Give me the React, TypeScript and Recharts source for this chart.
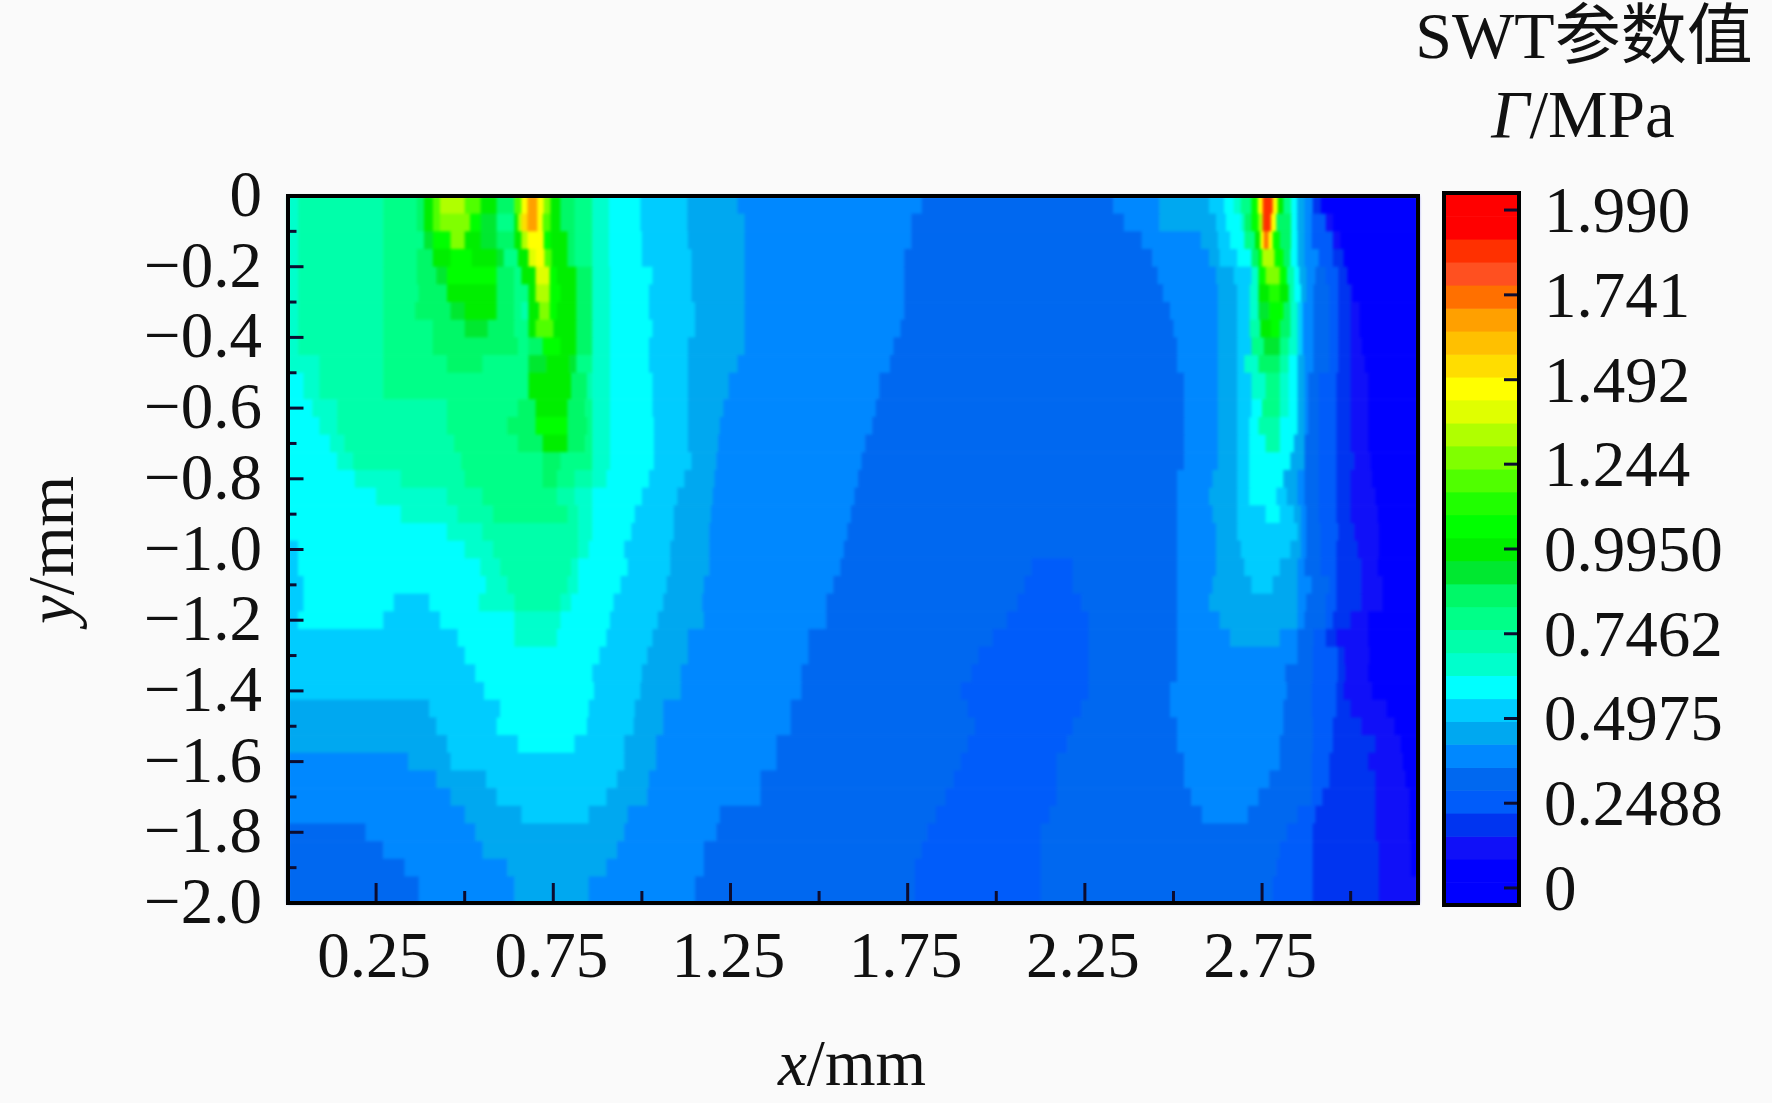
import { ScatterChart, Scatter, XAxis, YAxis } from "recharts";

// contour levels of the colour scale, MPa, bottom to top
const LEVELS = [
  -0.05, 0.017, 0.085, 0.152, 0.22, 0.287, 0.354, 0.422, 0.489, 0.556, 0.624,
  0.691, 0.759, 0.826, 0.893, 0.961, 1.028, 1.096, 1.163, 1.23, 1.298, 1.365,
  1.433, 1.5, 1.567, 1.635, 1.702, 1.77, 1.837, 1.905, 1.972, 2.04,
];
const BAND_COLORS = [
  "#0000ff", "#0000ff", "#1010f8", "#0034f0", "#005cfa", "#0068f0", "#0088ff",
  "#00a8f0", "#00ccff", "#00ffff", "#00ffcc", "#00ffaa", "#00ff88", "#00f868",
  "#00e830", "#00ee00", "#00ff00", "#20ff00", "#50ff00", "#80ff00", "#b0ff00",
  "#e0ff00", "#ffff00", "#ffdd00", "#ffc000", "#ffa000", "#ff7000", "#ff5020",
  "#ff3000", "#ff0000", "#ff0000",
];
const BAR_TICKS = [0, 0.2488, 0.4975, 0.7462, 0.995, 1.244, 1.492, 1.741, 1.99];
const BAR_LABELS = ["0", "0.2488", "0.4975", "0.7462", "0.9950", "1.244", "1.492", "1.741", "1.990"];

const X_TICKS = [0.25, 0.5, 0.75, 1, 1.25, 1.5, 1.75, 2, 2.25, 2.5, 2.75, 3];
const X_LABELLED = [0.25, 0.75, 1.25, 1.75, 2.25, 2.75];
const Y_TICKS = [0, -0.1, -0.2, -0.3, -0.4, -0.5, -0.6, -0.7, -0.8, -0.9, -1, -1.1, -1.2, -1.3, -1.4, -1.5, -1.6, -1.7, -1.8, -1.9, -2];
const X_MAX = 3.19;

// depth (mm) where each row of the field ends
const ROW_ENDS = [
  0.05, 0.1, 0.15, 0.2, 0.25, 0.3, 0.35, 0.4, 0.45, 0.5, 0.575, 0.625, 0.675,
  0.725, 0.775, 0.825, 0.875, 0.925, 0.975, 1.025, 1.075, 1.125, 1.175, 1.225,
  1.275, 1.325, 1.375, 1.425, 1.475, 1.525, 1.575, 1.625, 1.675, 1.725, 1.775,
  1.825, 1.875, 1.925, 2,
];

// each row: [x where the stretch ends in mm, SWT value in 0.01 MPa]
const ROWS: number[][][] = [
  [[.03,66],[.27,73],[.365,79],[.385,86],[.41,99],[.43,120],[.5,133],[.545,120],[.59,99],[.64,86],[.66,120],[.677,147],[.705,167],[.723,147],[.742,126],[.77,99],[.81,86],[.86,79],[.907,66],[.996,59],[1.128,52],[1.27,46],[1.79,39],[2.33,32],[2.46,39],[2.6,46],[2.643,52],[2.67,59],[2.69,66],[2.72,79],[2.738,106],[2.752,147],[2.78,187],[2.794,147],[2.81,99],[2.832,79],[2.849,59],[2.87,46],[2.893,39],[2.916,19],[3.19,5]],
  [[.03,66],[.27,73],[.365,79],[.385,86],[.41,99],[.43,120],[.515,126],[.545,106],[.59,93],[.64,79],[.65,99],[.66,133],[.677,153],[.705,167],[.72,147],[.742,120],[.77,99],[.81,86],[.86,79],[.907,66],[.996,59],[1.128,52],[1.29,46],[1.76,39],[2.36,32],[2.46,39],[2.62,46],[2.648,52],[2.69,59],[2.7,66],[2.72,86],[2.74,106],[2.752,133],[2.775,187],[2.79,147],[2.832,86],[2.849,59],[2.87,46],[2.89,39],[2.93,25],[2.95,12],[3.19,5]],
  [[.03,66],[.27,73],[.385,79],[.41,93],[.46,106],[.5,126],[.545,99],[.59,93],[.64,86],[.66,99],[.677,133],[.723,147],[.742,106],[.79,99],[.81,86],[.86,79],[.907,66],[1,59],[1.13,52],[1.29,46],[1.76,39],[2.41,32],[2.577,39],[2.625,46],[2.66,52],[2.7,59],[2.73,79],[2.745,99],[2.755,147],[2.768,174],[2.78,147],[2.8,106],[2.832,86],[2.85,59],[2.87,46],[2.89,39],[2.95,25],[2.97,12],[3.19,5]],
  [[.03,66],[.27,73],[.365,79],[.41,86],[.46,99],[.52,106],[.59,99],[.61,93],[.65,79],[.68,99],[.7,140],[.725,147],[.745,120],[.79,99],[.81,86],[.86,79],[.907,66],[1,59],[1.14,52],[1.29,46],[1.74,39],[2.44,32],[2.6,39],[2.63,46],[2.68,52],[2.72,59],[2.74,86],[2.75,106],[2.785,133],[2.81,106],[2.83,86],[2.85,59],[2.87,46],[2.91,39],[2.95,25],[2.98,19],[3.19,5]],
  [[.03,66],[.27,73],[.365,79],[.42,86],[.45,93],[.59,106],[.64,86],[.66,79],[.7,99],[.74,140],[.76,106],[.815,99],[.86,86],[.91,66],[1.03,59],[1.14,52],[1.29,46],[1.74,39],[2.455,32],[2.62,39],[2.67,46],[2.72,52],[2.74,66],[2.76,106],[2.8,126],[2.82,106],[2.84,73],[2.855,59],[2.875,46],[2.9,39],[2.93,32],[2.965,25],[2.99,19],[3.19,5]],
  [[.03,66],[.27,73],[.37,79],[.45,86],[.59,99],[.64,86],[.68,79],[.7,99],[.74,133],[.77,106],[.815,99],[.86,86],[.91,66],[1.02,59],[1.14,52],[1.29,46],[1.74,39],[2.47,32],[2.625,39],[2.68,46],[2.715,52],[2.74,66],[2.77,99],[2.8,113],[2.825,99],[2.84,73],[2.86,59],[2.875,46],[2.895,39],[2.94,32],[2.965,25],[3,19],[3.005,12],[3.19,5]],
  [[.03,66],[.27,73],[.36,79],[.46,86],[.5,93],[.59,99],[.64,86],[.66,79],[.68,73],[.71,99],[.74,126],[.76,106],[.815,99],[.86,86],[.91,66],[1.02,59],[1.15,52],[1.29,46],[1.74,39],[2.49,32],[2.625,39],[2.68,46],[2.715,52],[2.74,66],[2.77,93],[2.81,106],[2.83,86],[2.85,66],[2.865,52],[2.895,39],[2.94,32],[2.965,25],[3,19],[3.025,12],[3.19,5]],
  [[.03,66],[.27,73],[.41,79],[.5,86],[.565,93],[.64,86],[.68,79],[.7,99],[.75,120],[.815,99],[.86,86],[.91,66],[1.03,59],[1.15,52],[1.29,46],[1.73,39],[2.5,32],[2.625,39],[2.68,46],[2.715,52],[2.745,73],[2.775,99],[2.8,106],[2.83,86],[2.85,66],[2.865,52],[2.895,39],[2.94,32],[2.965,25],[3,19],[3.025,12],[3.19,5]],
  [[.03,66],[.27,73],[.41,79],[.65,86],[.68,79],[.72,86],[.77,106],[.815,99],[.86,86],[.91,66],[1.02,59],[1.13,52],[1.29,46],[1.71,39],[2.51,32],[2.625,39],[2.68,46],[2.72,52],[2.755,79],[2.8,93],[2.825,79],[2.85,66],[2.865,52],[2.895,39],[2.94,32],[2.965,25],[3,19],[3.03,12],[3.19,5]],
  [[.09,66],[.27,73],[.45,79],[.55,86],[.68,79],[.73,93],[.795,99],[.815,93],[.86,79],[.91,66],[1.02,59],[1.13,52],[1.27,46],[1.7,39],[2.51,32],[2.625,39],[2.68,46],[2.7,52],[2.74,66],[2.8,86],[2.825,73],[2.85,59],[2.87,46],[2.895,39],[2.94,32],[2.965,25],[3,19],[3.04,12],[3.19,5]],
  [[.045,59],[.09,66],[.27,73],[.68,79],[.8,99],[.845,86],[.86,73],[.91,66],[1.03,59],[1.13,52],[1.245,46],[1.67,39],[2.53,32],[2.625,39],[2.68,46],[2.72,52],[2.76,66],[2.8,79],[2.825,66],[2.85,59],[2.87,46],[2.88,39],[2.91,32],[2.96,25],[3,19],[3.05,12],[3.19,5]],
  [[.07,59],[.14,66],[.45,73],[.65,79],[.7,86],[.79,99],[.84,86],[.86,79],[.91,66],[1.03,59],[1.13,52],[1.23,46],[1.66,39],[2.53,32],[2.625,39],[2.68,46],[2.72,52],[2.75,59],[2.8,79],[2.825,66],[2.85,59],[2.87,46],[2.88,39],[2.91,32],[2.96,25],[3,19],[3.05,12],[3.19,5]],
  [[.09,59],[.14,66],[.45,73],[.62,79],[.7,86],[.79,106],[.845,86],[.86,79],[.91,66],[1.034,59],[1.13,52],[1.22,46],[1.65,39],[2.53,32],[2.625,39],[2.68,46],[2.714,52],[2.74,59],[2.8,73],[2.85,59],[2.87,46],[2.88,39],[2.91,32],[2.96,25],[3,19],[3.05,12],[3.19,5]],
  [[.12,59],[.16,66],[.47,73],[.65,79],[.72,86],[.79,99],[.84,86],[.86,79],[.91,66],[1.034,59],[1.13,52],[1.215,46],[1.63,39],[2.53,32],[2.625,39],[2.68,46],[2.714,52],[2.76,59],[2.8,73],[2.84,59],[2.87,46],[2.91,32],[2.96,25],[3,19],[3.05,12],[3.19,5]],
  [[.14,59],[.185,66],[.49,73],[.72,79],[.77,86],[.86,79],[.91,66],[1.034,59],[1.14,52],[1.21,46],[1.62,39],[2.53,32],[2.625,39],[2.68,46],[2.714,52],[2.83,59],[2.87,46],[2.91,32],[2.96,25],[3.01,19],[3.055,12],[3.19,5]],
  [[.19,59],[.32,66],[.5,73],[.72,79],[.76,86],[.81,79],[.86,73],[.9,66],[1.02,59],[1.12,52],[1.205,46],[1.61,39],[2.51,32],[2.61,39],[2.68,46],[2.714,52],[2.81,59],[2.85,46],[2.87,39],[2.91,32],[2.96,25],[3,19],[3.06,12],[3.19,5]],
  [[.25,59],[.45,66],[.55,73],[.76,79],[.81,73],[.86,66],[1,59],[1.1,52],[1.2,46],[1.6,39],[2.51,32],[2.6,39],[2.68,46],[2.714,52],[2.79,59],[2.82,52],[2.85,46],[2.87,39],[2.91,32],[2.96,25],[3,19],[3.07,12],[3.19,5]],
  [[.32,59],[.48,66],[.58,73],[.79,79],[.82,73],[.86,66],[.98,59],[1.09,52],[1.195,46],[1.59,39],[2.51,32],[2.61,39],[2.68,46],[2.76,52],[2.8,59],[2.84,52],[2.86,46],[2.875,39],[2.91,32],[2.96,25],[3,19],[3.075,12],[3.19,5]],
  [[.45,59],[.55,66],[.82,73],[.86,66],[.97,59],[1.09,52],[1.19,46],[1.58,39],[2.51,32],[2.62,39],[2.68,46],[2.85,52],[2.86,46],[2.875,39],[2.915,32],[2.965,25],[3.01,19],[3.08,12],[3.19,5]],
  [[.03,52],[.5,59],[.58,66],[.82,73],[.85,66],[.95,59],[1.08,52],[1.19,46],[1.57,39],[2.51,32],[2.62,39],[2.69,46],[2.83,52],[2.86,46],[2.875,39],[2.915,32],[2.96,25],[3.02,19],[3.08,12],[3.19,5]],
  [[.03,52],[.544,59],[.6,66],[.8,73],[.82,66],[.96,59],[1.08,52],[1.19,46],[1.56,39],[2.1,32],[2.215,25],[2.51,32],[2.62,39],[2.7,46],[2.8,52],[2.85,46],[2.87,39],[2.915,32],[2.96,25],[3.03,19],[3.075,12],[3.19,5]],
  [[.045,52],[.56,59],[.62,66],[.79,73],[.82,66],[.94,59],[1.07,52],[1.175,46],[1.54,39],[2.08,32],[2.215,25],[2.51,32],[2.61,39],[2.72,46],[2.78,52],[2.85,46],[2.89,39],[2.94,32],[2.96,25],[3.03,19],[3.09,12],[3.19,5]],
  [[.045,52],[.3,59],[.4,52],[.54,59],[.64,66],[.77,73],[.8,66],[.92,59],[1.06,52],[1.17,46],[1.52,39],[2.06,32],[2.24,25],[2.51,32],[2.6,39],[2.85,46],[2.875,39],[2.93,32],[2.96,25],[3.03,19],[3.09,12],[3.19,5]],
  [[.03,52],[.27,59],[.43,52],[.64,59],[.77,66],[.91,59],[1.045,52],[1.175,46],[1.52,39],[2.03,32],[2.26,25],[2.51,32],[2.63,39],[2.85,46],[2.87,39],[2.93,32],[2.95,25],[3,19],[3.05,12],[3.19,5]],
  [[.48,52],[.64,59],[.76,66],[.9,59],[1.03,52],[1.13,46],[1.47,39],[1.99,32],[2.26,25],[2.51,32],[2.66,39],[2.8,46],[2.85,39],[2.895,32],[2.93,25],[2.96,19],[3.05,12],[3.19,5]],
  [[.5,52],[.88,59],[1.015,52],[1.13,46],[1.47,39],[1.95,32],[2.26,25],[2.51,32],[2.85,39],[2.893,32],[2.964,25],[2.982,19],[3.053,12],[3.19,5]],
  [[.53,52],[.86,59],[1,52],[1.11,46],[1.45,39],[1.93,32],[2.26,25],[2.51,32],[2.815,39],[2.893,32],[2.964,25],[2.985,19],[3.05,12],[3.19,5]],
  [[.555,52],[.865,59],[.996,52],[1.11,46],[1.45,39],[1.9,32],[2.26,25],[2.49,32],[2.82,39],[2.89,32],[2.96,25],[2.98,19],[3.06,12],[3.19,5]],
  [[.4,46],[.6,52],[.85,59],[.98,52],[1.06,46],[1.42,39],[1.92,32],[2.24,25],[2.49,32],[2.81,39],[2.89,32],[2.96,25],[3,19],[3.1,12],[3.19,5]],
  [[.42,46],[.59,52],[.845,59],[.977,52],[1.06,46],[1.42,39],[1.94,32],[2.215,25],[2.51,32],[2.81,39],[2.893,32],[2.95,25],[3.03,19],[3.124,12],[3.19,5]],
  [[.45,46],[.65,52],[.81,59],[.95,52],[1.04,46],[1.38,39],[1.92,32],[2.2,25],[2.51,32],[2.8,39],[2.893,32],[2.95,25],[3.07,19],[3.14,12],[3.19,5]],
  [[.34,39],[.46,46],[.95,52],[1.04,46],[1.38,39],[1.9,32],[2.17,25],[2.53,32],[2.8,39],[2.89,32],[2.94,25],[3.05,19],[3.147,12],[3.19,5]],
  [[.42,39],[.56,46],[.93,52],[1.02,46],[1.335,39],[1.88,32],[2.17,25],[2.53,32],[2.77,39],[2.89,32],[2.94,25],[3.07,19],[3.155,12],[3.19,5]],
  [[.46,39],[.59,46],[.9,52],[1.015,46],[1.335,39],[1.857,32],[2.17,25],[2.55,32],[2.74,39],[2.89,32],[2.92,25],[3.07,19],[3.166,12],[3.19,5]],
  [[.5,39],[.66,46],[.85,52],[.96,46],[1.22,39],[1.83,32],[2.15,25],[2.58,32],[2.71,39],[2.85,32],[2.9,25],[3.07,19],[3.165,12],[3.19,5]],
  [[.22,32],[.53,39],[.95,46],[1.21,39],[1.805,32],[2.125,25],[2.82,32],[2.893,25],[3.07,19],[3.166,12],[3.19,5]],
  [[.27,32],[.55,39],[.93,46],[1.175,39],[1.79,32],[2.125,25],[2.8,32],[2.893,25],[3.08,19],[3.17,12],[3.19,5]],
  [[.33,32],[.62,39],[.9,46],[1.175,39],[1.77,32],[2.125,25],[2.79,32],[2.893,25],[3.08,19],[3.17,12],[3.19,5]],
  [[.37,32],[.64,39],[.85,46],[1.15,39],[1.77,32],[2.125,25],[2.78,32],[2.893,25],[3.08,19],[3.19,12]],
];

const PLOT = { left: 287.5, top: 196, right: 1418, bottom: 903 };
const BAR = { left: 1444, top: 193, right: 1519, bottom: 905 };
const SERIF = "'Liberation Serif', 'Times New Roman', serif";
const FONT_SIZE = 65;

function bandColor(v: number) {
  const i = LEVELS.findIndex((l, n) => v >= l && v < LEVELS[n + 1]);
  return BAND_COLORS[Math.max(i, 0)];
}

// rows -> one rectangle per stretch, placed through the chart's scales
const cells: any[] = [];
ROWS.forEach((row, r) => {
  const top = r === 0 ? 0 : ROW_ENDS[r - 1];
  let start = 0;
  row.forEach(([end, v]) => {
    cells.push({
      x: (start + end) / 2,
      y: -(top + ROW_ENDS[r]) / 2,
      dx: end - start,
      dy: ROW_ENDS[r] - top,
      v: v / 100,
    });
    start = end;
  });
});

const barCells = BAND_COLORS.map((_, i) => ({
  x: 0.5,
  y: (LEVELS[i] + LEVELS[i + 1]) / 2,
  dx: 1,
  dy: LEVELS[i + 1] - LEVELS[i],
  v: (LEVELS[i] + LEVELS[i + 1]) / 2,
}));

const makeCell = (pxX: number, pxY: number) => (props: any) => {
  const { cx, cy, payload } = props;
  const w = payload.dx * pxX;
  const h = payload.dy * pxY;
  return (
    <rect
      x={cx - w / 2}
      y={cy - h / 2}
      width={w + 0.6}
      height={h + 0.6}
      fill={bandColor(payload.v)}
      stroke="none"
    />
  );
};

const Txt = ({ children, ...rest }: any) => (
  <text fontFamily={SERIF} fontSize={FONT_SIZE} fill="#111" {...rest}>
    {children}
  </text>
);

function XTick({ x, payload }: any) {
  const on = X_LABELLED.includes(payload.value);
  return (
    <g>
      <line x1={x} x2={x} y1={PLOT.bottom} y2={PLOT.bottom - (on ? 20 : 12)} stroke="#0c0c30" strokeWidth={3} />
      {on && (
        <Txt x={x - 2} y={977} textAnchor="middle">
          {payload.value.toFixed(2)}
        </Txt>
      )}
    </g>
  );
}

function YTick({ y, payload }: any) {
  const major = Math.round(Math.abs(payload.value) * 10) % 2 === 0;
  const label = payload.value === 0 ? "0" : "\u2212" + Math.abs(payload.value).toFixed(1);
  return (
    <g>
      <line x1={PLOT.left} x2={PLOT.left + (major ? 16 : 9)} y1={y} y2={y} stroke="#0c0c30" strokeWidth={3} />
      {major && (
        <Txt x={262} y={y + 20} textAnchor="end">
          {label}
        </Txt>
      )}
    </g>
  );
}

function BarTick({ y, payload }: any) {
  const i = BAR_TICKS.indexOf(payload.value);
  return (
    <g>
      <line x1={BAR.right} x2={BAR.right - 15} y1={y} y2={y} stroke="#0c0c30" strokeWidth={3} />
      <Txt x={1544} y={y + 22}>
        {BAR_LABELS[i]}
      </Txt>
    </g>
  );
}

const frame = (b: { left: number; top: number; right: number; bottom: number }, w: number): any => ({
  position: "absolute",
  left: b.left - w / 2,
  top: b.top - w / 2,
  width: b.right - b.left + w,
  height: b.bottom - b.top + w,
  border: `${w}px solid #000`,
  boxSizing: "border-box",
  pointerEvents: "none",
});

export default function App() {
  const pxX = (PLOT.right - PLOT.left) / X_MAX;
  const pxY = (PLOT.bottom - PLOT.top) / 2;
  const barPxY = (BAR.bottom - BAR.top) / (LEVELS[LEVELS.length - 1] - LEVELS[0]);
  return (
    <div style={{ position: "relative", width: 1772, height: 1103, background: "#fafafa", overflow: "hidden" }}>
      <style>{"body{margin:0;background:#fafafa}.heat .recharts-scatter{filter:blur(1.5px)}"}</style>
      <ScatterChart
        className="heat"
        width={1772}
        height={1103}
        margin={{ top: PLOT.top, right: 1772 - PLOT.right, bottom: 0, left: 0 }}
        style={{ position: "absolute", left: 0, top: 0 }}
      >
        <Scatter data={cells} isAnimationActive={false} shape={makeCell(pxX, pxY)} />
        <XAxis
          type="number"
          dataKey="x"
          domain={[0, X_MAX]}
          ticks={X_TICKS}
          interval={0}
          height={1103 - PLOT.bottom}
          axisLine={false}
          tickLine={false}
          tick={<XTick />}
          zIndex={700}
        />
        <YAxis
          type="number"
          dataKey="y"
          domain={[-2, 0]}
          ticks={Y_TICKS}
          interval={0}
          width={PLOT.left}
          axisLine={false}
          tickLine={false}
          tick={<YTick />}
          zIndex={700}
        />
      </ScatterChart>
      <div style={frame(PLOT, 4)} />

      <ScatterChart
        width={1772}
        height={1103}
        margin={{ top: BAR.top, right: 0, bottom: 1103 - BAR.bottom, left: BAR.left }}
        style={{ position: "absolute", left: 0, top: 0, pointerEvents: "none" }}
      >
        <Scatter data={barCells} isAnimationActive={false} shape={makeCell(BAR.right - BAR.left, barPxY)} />
        <XAxis type="number" dataKey="x" domain={[0, 1]} hide />
        <YAxis
          type="number"
          dataKey="y"
          orientation="right"
          domain={[LEVELS[0], LEVELS[LEVELS.length - 1]]}
          ticks={BAR_TICKS}
          interval={0}
          width={1772 - BAR.right}
          axisLine={false}
          tickLine={false}
          tick={<BarTick />}
          zIndex={700}
        />
      </ScatterChart>
      <div style={frame(BAR, 4)} />

      <svg width={1772} height={1103} style={{ position: "absolute", left: 0, top: 0, pointerEvents: "none" }}>
        <Txt x={1584} y={58} textAnchor="middle" fontSize={66}>
          SWT<tspan fontFamily="'Noto Sans CJK SC'">参数值</tspan>
        </Txt>
        <Txt x={1583} y={137} textAnchor="middle" fontSize={67}>
          <tspan fontStyle="italic">Γ</tspan>/MPa
        </Txt>
        <Txt x={852} y={1085} textAnchor="middle">
          <tspan fontStyle="italic">x</tspan>/mm
        </Txt>
        <Txt transform="translate(73 550) rotate(-90)" textAnchor="middle">
          <tspan fontStyle="italic">y</tspan>/mm
        </Txt>
      </svg>
    </div>
  );
}
